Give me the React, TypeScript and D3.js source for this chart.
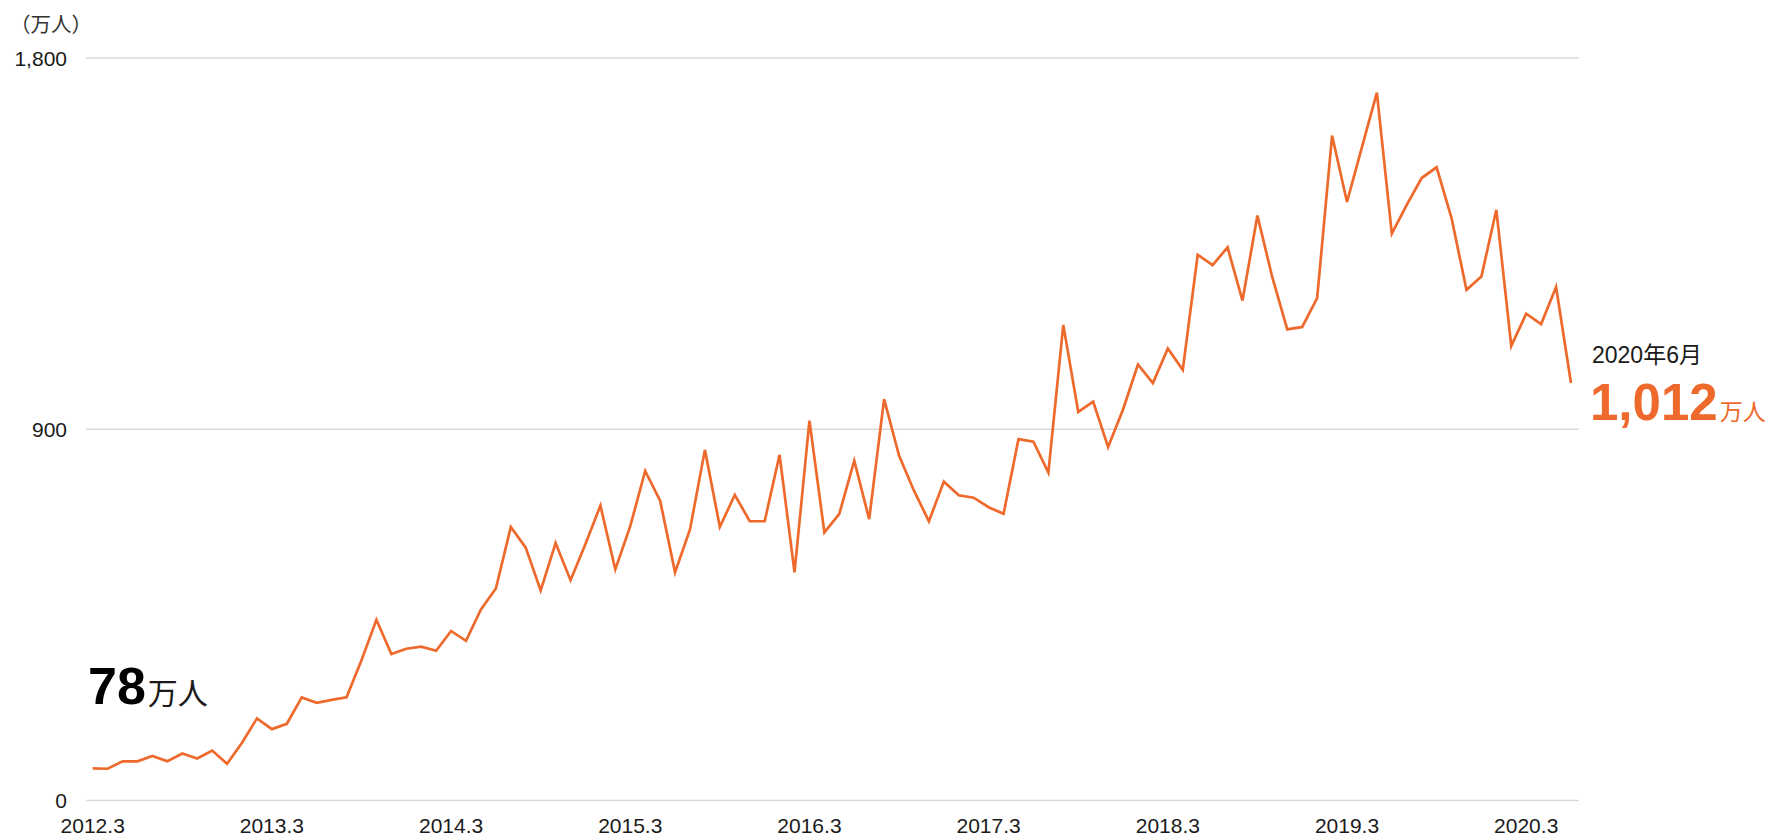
import React from "react";
import * as d3 from "d3";

// Monthly users (万人), 2012.3 → 2020.6
const values: number[] = [
  78, 77, 95, 95, 108, 95, 114, 102, 121, 89,
  140, 199, 173, 186, 250, 237, 244, 250, 340, 438, 355, 368, 373, 363,
  411, 387, 463, 514, 663, 613, 509, 624, 534, 622, 715, 560,
  665, 799, 727, 553, 657, 850, 663, 741, 677, 677, 838, 553,
  921, 650, 695, 824, 682, 973, 836, 751, 677, 773, 740, 734,
  711, 695, 876, 870, 795, 1153, 942, 967, 857, 948, 1057, 1012,
  1096, 1044, 1323, 1298, 1341, 1212, 1418, 1268, 1142, 1148, 1218, 1612,
  1451, 1584, 1716, 1374, 1444, 1509, 1535, 1412, 1238, 1270, 1432, 1102,
  1180, 1155, 1245, 1012,
];

const xTickLabels: string[] = [
  "2012.3", "2013.3", "2014.3", "2015.3", "2016.3",
  "2017.3", "2018.3", "2019.3", "2020.3",
];
const xTickIndex: number[] = [0, 12, 24, 36, 48, 60, 72, 84, 96];

const yTicks: number[] = [0, 900, 1800];

const ORANGE = "#EE6A2C";
const TEXT = "#1a1a1a";
const FONT = "'Liberation Sans', Arial, 'Noto Sans CJK JP', sans-serif";
const CJK = "'Noto Sans CJK JP', 'Liberation Sans', sans-serif";

export default function App() {
  const W = 1772;
  const H = 836;
  const x = d3.scaleLinear().domain([0, values.length - 1]).range([92.7, 1571]);
  const y = d3.scaleLinear().domain([0, 1800]).range([800.5, 58]);
  const line = d3
    .line<number>()
    .x((_, i) => x(i))
    .y((d) => y(d))
    .curve(d3.curveLinear);
  const gridX0 = 86;
  const gridX1 = 1579;

  return (
    <svg
      width={W}
      height={H}
      style={{ position: "absolute", left: 0, top: 0, background: "#fff" }}
      fontFamily={FONT}
    >
      {/* unit label */}
      <text x={10} y={32} fontSize={20.5} fill="#333" fontFamily={CJK}>
        （万人）
      </text>

      {/* grid lines + y labels */}
      {yTicks.map((t) => (
        <g key={t}>
          <line
            x1={gridX0}
            x2={gridX1}
            y1={y(t)}
            y2={y(t)}
            stroke="#d9d9d9"
            strokeWidth={1.5}
          />
          <text
            x={67}
            y={y(t)}
            dy="0.36em"
            textAnchor="end"
            fontSize={21}
            fill={TEXT}
          >
            {d3.format(",")(t)}
          </text>
        </g>
      ))}

      {/* x labels */}
      {xTickIndex.map((idx, k) => (
        <text
          key={idx}
          x={x(idx)}
          y={833}
          textAnchor="middle"
          fontSize={21}
          fill={TEXT}
        >
          {xTickLabels[k]}
        </text>
      ))}

      {/* line */}
      <path
        d={line(values) || ""}
        fill="none"
        stroke={ORANGE}
        strokeWidth={2.7}
        strokeLinejoin="miter"
      />

      {/* start annotation */}
      <text x={88} y={704} fill="#000">
        <tspan fontSize={52} fontWeight="bold">
          {values[0]}
        </tspan>
        <tspan fontSize={30} fontFamily={CJK} dx={2} fill={TEXT}>
          万人
        </tspan>
      </text>

      {/* end annotation */}
      <text x={1592} y={363} fontSize={23} fill={TEXT}>
        2020年6月
      </text>
      <text x={1590} y={420} fill={ORANGE}>
        <tspan fontSize={51} fontWeight="bold">
          {d3.format(",")(values[values.length - 1])}
        </tspan>
        <tspan fontSize={23} fontFamily={CJK} dx={2}>
          万人
        </tspan>
      </text>
    </svg>
  );
}
